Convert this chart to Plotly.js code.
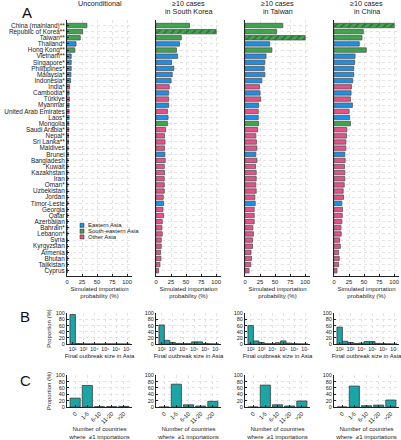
<!DOCTYPE html>
<html><head><meta charset="utf-8">
<script src="https://cdn.plot.ly/plotly-3.0.1.min.js"></script>
<style>html,body{margin:0;padding:0;background:#fff;}#chart{width:401px;height:440px;}</style>
</head><body><div id="chart"></div>
<script>
// ---------- DATA ----------
const countries = ["China (mainland)**","Republic of Korea**","Taiwan**","Thailand*","Hong Kong**","Vietnam**","Singapore*","Philippines*","Malaysia*","Indonesia*","India*","Cambodia*","Türkiye","Myanmar","United Arab Emirates","Laos*","Mongolia","Saudi Arabia*","Nepal*","Sri Lanka**","Maldives","Brunei","Bangladesh","Kuwait","Kazakhstan","Iran","Oman*","Uzbekistan","Jordan","Timor-Leste","Georgia","Qatar","Azerbaijan","Bahrain*","Lebanon*","Syria","Kyrgyzstan","Armenia","Bhutan","Tajikistan","Cyprus"];
// region group as coloured in the figure legend
const region = ["South-eastern Asia","South-eastern Asia","South-eastern Asia","Eastern Asia","South-eastern Asia","Eastern Asia","Eastern Asia","Eastern Asia","Eastern Asia","Eastern Asia","Other Asia","Eastern Asia","Other Asia","Eastern Asia","Other Asia","Eastern Asia","South-eastern Asia","Other Asia","Other Asia","Other Asia","Other Asia","Eastern Asia","Other Asia","Other Asia","Other Asia","Other Asia","Other Asia","Other Asia","Other Asia","Eastern Asia","Other Asia","Other Asia","Other Asia","Other Asia","Other Asia","Other Asia","Other Asia","Other Asia","Other Asia","Other Asia","Other Asia"];
const probUnconditional = [33,26,22,15,13,7,7,7,6.5,6,4.5,3.5,4,3.5,3.5,3.5,3,3,2.5,2.5,2,2.2,1.6,1.5,1.4,1.4,1.4,1.3,1.3,1.6,1.2,1.2,1.1,1.1,1.1,1.0,1.0,0.9,0.9,0.8,0.6];
const probSouthKorea = [55.7,100,42,39,34,36,26,29.5,27,25,22,21,21,21,19,20,19,16,14,15,14,14.8,15.3,13.7,14.2,13.7,13.7,13.7,12,12.6,11.5,12.6,10.4,9.8,10.4,8.7,8.7,7.7,8.2,6.6,4.4];
const probTaiwan = [62.7,52.5,100,41,44.6,35,33,32,33,28,24,25,26,22.6,22,22,22.6,21,18,19,19.8,18,19.8,17.5,18.6,18.6,18,18.6,16.4,17,15.3,15.3,15.3,13,14,12.4,12.4,10,10.7,9.6,6.8];
const probChina = [100,48.6,46.4,42,53.6,35,34.4,32.8,32.8,31,29,28.4,27.3,30.6,25,26,27.3,21.3,20.8,19.7,19.7,18,18.6,17.5,18,18,17,15.3,15.8,13,14.2,13.7,13,11.5,12,9.3,10.4,7.7,8.7,7.7,5];
const panelTitleLine1 = ["Unconditional","≥10 cases","≥10 cases","≥10 cases"];
const panelTitleLine2 = ["","in South Korea","in Taiwan","in China"];
const conditionedOn = [null,"Republic of Korea**","Taiwan**","China (mainland)**"];
const regionNames = ["Eastern Asia","South-eastern Asia","Other Asia"];
const regionColors = ["#1e8fe6","#3ea44e","#e8508a"];

const sizeBins = [2,2.5,3,3.5,4,4.5,5,5.5,6,6.5,7];
const sizeTickVals = [2,3,4,5,6,7];
const sizeTickText = ["10²","10³","10⁴","10⁵","10⁶","10⁷"];
const sizeUnconditional = [96,1.5,0.4,0.2,0.2,0.2,0.3,0.3,0.2,0,0];
const sizeSouthKorea = [62,12,5,2,1,1,7,7,2,0.5,0];
const sizeTaiwan = [60,10,5,1,1,4,10,3,1,0.3,0];
const sizeChina = [55,9,5,2,3,8,8,2,1,0.3,0];

const countBins = ["0","1-5","6-10","11-20",">20"];
const countUnconditional = [28,68,1,1,2];
const countSouthKorea = [0,72,7,3,18];
const countTaiwan = [0,69,7,3,19];
const countChina = [0,66,4,6,22];

// ---------- LAYOUT HELPERS ----------
const W=401,H=440;
const FONT="Liberation Sans, Arial, sans-serif";
const colLeft=[67,156,245,334], colW=65;
const xd = i => [colLeft[i]/W,(colLeft[i]+colW)/W];
const yd = (top,bot) => [1-bot/H,1-top/H];
const probs=[probUnconditional,probSouthKorea,probTaiwan,probChina];
const sizes=[sizeUnconditional,sizeSouthKorea,sizeTaiwan,sizeChina];
const counts=[countUnconditional,countSouthKorea,countTaiwan,countChina];
const teal="#1aa6a7", edge="#3a3a3a", grid="#e3e3e3";

const traces=[];
const layout={width:W,height:H,margin:{l:0,r:0,t:0,b:0},paper_bgcolor:"#fff",plot_bgcolor:"rgba(0,0,0,0)",
  showlegend:false,font:{family:FONT,color:"#222",size:6},annotations:[],shapes:[],barmode:"overlay"};

for(let p=0;p<4;p++){
  const xa=p+1, xb=p+5, xc=p+9;
  const sfx=n=>n===1?"":String(n);
  regionNames.forEach((rn,ri)=>{
    const idx=countries.map((c,i)=>i).filter(i=>region[i]===rn);
    const ys=idx.map(i=>countries[i]), xs=idx.map(i=>probs[p][i]);
    const pat=ys.map(c=>c===conditionedOn[p]?"/":"");
    traces.push({type:"bar",orientation:"h",y:ys,x:xs,xaxis:"x"+sfx(xa),yaxis:"y"+sfx(xa),width:0.72,
      marker:{color:regionColors[ri],line:{color:"#555",width:0.8},
        pattern:{shape:pat,fgcolor:"#1a1a1a",fillmode:"overlay",size:5,solidity:0.25}},hoverinfo:"x+y"});
  });
  traces.push({type:"bar",x:sizeBins,y:sizes[p],width:0.5,xaxis:"x"+xb,yaxis:"y"+xb,
    marker:{color:teal,line:{color:edge,width:0.8}}});
  traces.push({type:"bar",x:countBins,y:counts[p],width:0.83,xaxis:"x"+xc,yaxis:"y"+xc,
    marker:{color:teal,line:{color:edge,width:0.8}}});

  const common={showline:true,linecolor:"#222",linewidth:1,mirror:false,showgrid:true,gridcolor:grid,griddash:"dot",
    zeroline:false,ticks:"inside",ticklen:2,tickcolor:"#222",automargin:false,fixedrange:true};
  // A
  layout["xaxis"+sfx(xa)]=Object.assign({},common,{domain:xd(p),anchor:"y"+sfx(xa),range:[0,108],
    tickvals:[0,25,50,75,100],tickfont:{size:5.8,family:FONT},tickangle:0,
    title:{text:"Simulated importation<br>probability (%)",font:{size:6,family:FONT},standoff:2}});
  layout["yaxis"+sfx(xa)]=Object.assign({},common,{domain:yd(20,276),anchor:"x"+sfx(xa),type:"category",
    categoryorder:"array",categoryarray:countries,range:[40.86,-0.9],showticklabels:p===0,
    tickfont:{size:6.4,family:FONT},ticks:p===0?"inside":"",tickmode:"linear"});
  // B
  layout["xaxis"+xb]=Object.assign({},common,{domain:xd(p),anchor:"y"+xb,range:[1.48,7.45],
    tickvals:sizeTickVals,ticktext:sizeTickText,tickfont:{size:5.3,family:FONT},tickangle:0,
    title:{text:"Final outbreak size in Asia",font:{size:6,family:FONT},standoff:2}});
  const yB={domain:yd(313,344),anchor:"x"+xb,range:[0,101],tickvals:[0,20,40,60,80,100],tickfont:{size:5.5,family:FONT}};
  if(p===0) yB.title={text:"Proportion (%)",font:{size:6,family:FONT},standoff:3};
  layout["yaxis"+xb]=Object.assign({},common,yB);
  // C
  layout["xaxis"+xc]=Object.assign({},common,{domain:xd(p),anchor:"y"+xc,type:"category",
    categoryorder:"array",categoryarray:countBins,range:[-0.67,4.67],tickangle:-45,tickfont:{size:5.8,family:FONT},
    title:{text:"Number of countries<br>where  ≥1 importations",font:{size:6,family:FONT},standoff:2}});
  const yC={domain:yd(375,407),anchor:"x"+xc,range:[0,101],tickvals:[0,20,40,60,80,100],tickfont:{size:5.5,family:FONT}};
  if(p===0) yC.title={text:"Proportion (%)",font:{size:6,family:FONT},standoff:3};
  layout["yaxis"+xc]=Object.assign({},common,yC);

  // column titles, one annotation per line (tight line spacing as in the figure)
  [[panelTitleLine1[p],4.0],[panelTitleLine2[p],12.0]].forEach(([t,cy])=>{
    if(!t) return;
    layout.annotations.push({text:t,xref:"paper",yref:"paper",x:(colLeft[p]+colW/2)/W,y:1-cy/H,borderpad:0,
      xanchor:"center",yanchor:"middle",showarrow:false,font:{size:7.2,family:FONT,color:"#222"}});
  });
}

// panel letters
[["A",27,13],["B",25,316],["C",25,380]].forEach(([t,x,y])=>layout.annotations.push({text:t,xref:"paper",yref:"paper",
  x:x/W,y:1-y/H,xanchor:"center",yanchor:"middle",showarrow:false,font:{size:15,family:FONT,color:"#111"}}));

// legend (drawn manually, compact)
regionNames.forEach((rn,ri)=>{
  const cy=225.3+ri*5.8;
  layout.shapes.push({type:"rect",xref:"paper",yref:"paper",x0:80/W,x1:84/W,y0:1-(cy+2)/H,y1:1-(cy-2)/H,
    fillcolor:regionColors[ri],line:{color:"#333",width:0.6}});
  layout.annotations.push({text:rn,xref:"paper",yref:"paper",x:86.5/W,y:1-cy/H,xanchor:"left",yanchor:"middle",
    borderpad:0,showarrow:false,font:{size:6,family:FONT,color:"#222"}});
});

Plotly.newPlot("chart",traces,layout,{staticPlot:true,displayModeBar:false});
</script></body></html>
